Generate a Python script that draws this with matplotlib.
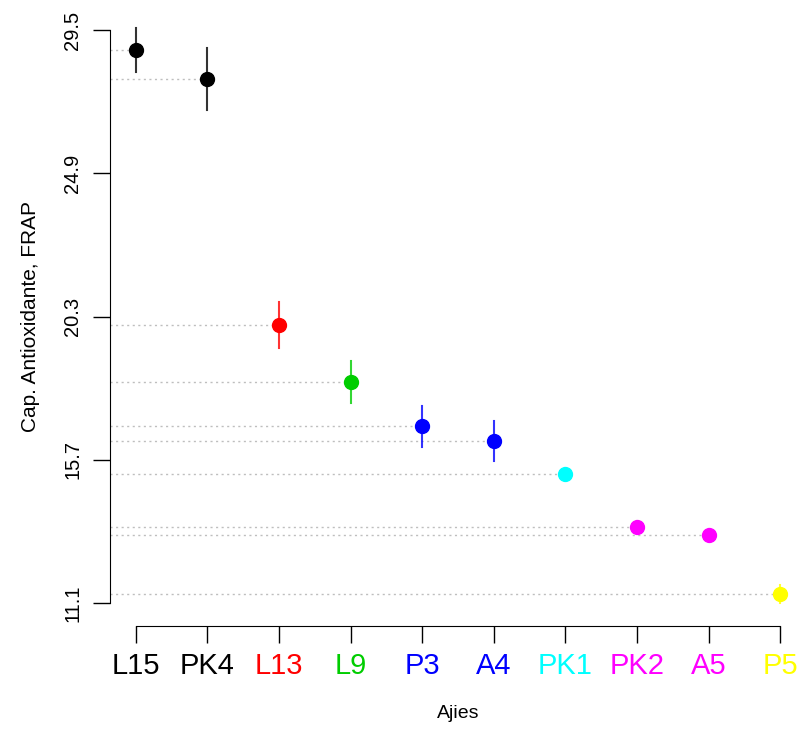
import matplotlib
matplotlib.use("Agg")
import matplotlib.pyplot as plt

plt.rcParams["font.family"] = ["Liberation Sans", "DejaVu Sans"]

# Values
ajies = ["L15", "PK4", "L13", "L9", "P3", "A4", "PK1", "PK2", "A5", "P5"]
frap_mean = [28.86, 27.93, 20.03, 18.20, 16.78, 16.30, 15.24, 13.54, 13.28, 11.39]
frap_err = [0.72, 1.00, 0.74, 0.67, 0.66, 0.64, 0.20, 0.20, 0.20, 0.29]
colors = ["black", "black", "#FF0000", "#00CD00", "#0000FF", "#0000FF",
          "#00FFFF", "#FF00FF", "#FF00FF", "#FFFF00"]
y_ticks = [11.1, 15.7, 20.3, 24.9, 29.5]

x = list(range(1, len(ajies) + 1))

fig = plt.figure(figsize=(8.07, 7.29), dpi=100)
ax = fig.add_axes([0.1363, 0.1413, 0.8625, 0.849])

xpad = 0.04 * (x[-1] - x[0])
ypad = 0.04 * (y_ticks[-1] - y_ticks[0])
ax.set_xlim(x[0] - xpad, x[-1] + xpad)
ax.set_ylim(y_ticks[0] - ypad, y_ticks[-1] + ypad)

# dotted reference lines from the axis to each point
for xi, yi in zip(x, frap_mean):
    ax.plot([x[0] - xpad, xi], [yi, yi], linestyle=(0, (1.5, 2.5)),
            color="#bebebe", linewidth=1.0, zorder=1)

for xi, yi, ei, c in zip(x, frap_mean, frap_err, colors):
    ax.plot([xi, xi], [yi - ei, yi + ei], color=c, linewidth=1.5,
            alpha=0.8, zorder=2)
    ax.plot(xi, yi, "o", color=c, markersize=10, zorder=3)

for s in ["top", "right"]:
    ax.spines[s].set_visible(False)
ax.spines["left"].set_bounds(y_ticks[0], y_ticks[-1])
ax.spines["bottom"].set_bounds(x[0], x[-1])

ax.set_yticks(y_ticks)
ax.set_yticklabels([f"{v:.1f}" for v in y_ticks], rotation=90, va="center",
                   fontsize=14.5)
ax.tick_params(axis="y", length=12, width=1, pad=8)

ax.set_xticks(x)
ax.set_xticklabels(ajies, fontsize=21)
ax.tick_params(axis="x", length=12, width=1, pad=7)
for lbl, c in zip(ax.get_xticklabels(), colors):
    lbl.set_color(c)

ax.set_xlabel("Ajies", fontsize=14, labelpad=18)
ax.set_ylabel("Cap. Antioxidante, FRAP", fontsize=15, labelpad=17)

fig.savefig("out.png", dpi=100)
